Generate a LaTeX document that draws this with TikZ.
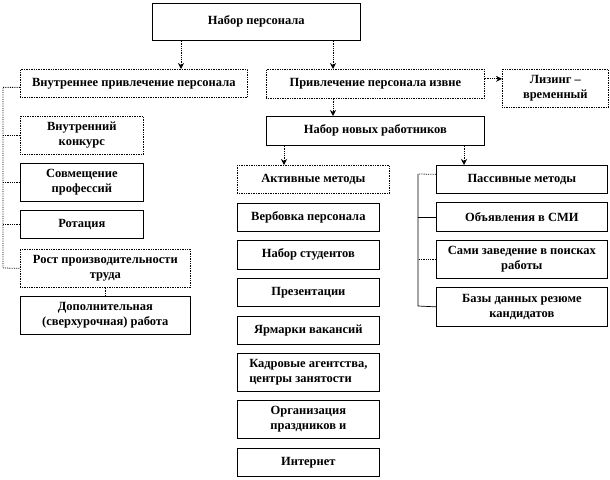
\documentclass[tikz,border=0pt]{standalone}
\usepackage{fontspec}
\setmainfont{Liberation Serif}
\usetikzlibrary{arrows.meta}
\newcommand\mybox[7]{\node[#2,anchor=north west,minimum width={(#5-#3)*1pt},minimum height={(#6-#4)*1pt}] (#1) at (#3,#4) {#7};}
\begin{document}
\begin{tikzpicture}[x=1pt,y=-1pt,
  box/.style={draw=black, line width=0.7pt, fill=white, inner sep=1pt, align=center,
    font=\bfseries\fontsize{12.5}{15}\selectfont},
  dbox/.style={box, densely dotted},
  arr/.style={densely dotted, line width=0.8pt, -{Stealth[length=6pt,width=6pt]}},
  link/.style={densely dotted, line width=0.8pt},
  rlink/.style={line width=0.7pt}]
\useasboundingbox[fill=white] (0,0) rectangle (610,479);
% boxes
\mybox{top}{box}{152}{3}{360}{40}{Набор персонала}
\mybox{inner}{dbox}{20}{69}{247}{97}{Внутреннее привлечение персонала}
\mybox{outer}{dbox}{266}{69}{484}{98}{Привлечение персонала извне}
\mybox{lease}{dbox}{502}{69}{608}{107}{Лизинг –\\временный}
\mybox{newr}{box}{266}{116}{484}{145}{Набор новых работников}
\mybox{konk}{dbox}{20}{116}{143}{154}{Внутренний\\конкурс}
\mybox{sovm}{box}{20}{163}{143}{201}{Совмещение\\профессий}
\mybox{rot}{box}{20}{210}{143}{238}{Ротация}
\mybox{rost}{dbox}{20}{249}{190}{287}{Рост производительности\\труда}
\mybox{dop}{box}{20}{296}{190}{334}{Дополнительная\\(сверхурочная) работа}
\mybox{act}{dbox}{237}{165}{389}{193}{Активные методы}
\mybox{verb}{box}{237}{203}{379}{231}{Вербовка персонала}
\mybox{stud}{box}{237}{240}{379}{269}{Набор студентов}
\mybox{pres}{box}{237}{278}{379}{306}{Презентации}
\mybox{yarm}{box}{237}{316}{379}{344}{Ярмарки вакансий}
\mybox{kadr}{box,align=left}{237}{353}{379}{391}{Кадровые агентства,\\центры занятости}
\mybox{org}{box}{237}{400}{379}{438}{Организация\\праздников и}
\mybox{inet}{box}{237}{448}{379}{476}{Интернет}
\mybox{pass}{box}{436}{165}{607}{193}{Пассивные методы}
\mybox{smi}{box}{436}{202}{607}{231}{Объявления в СМИ}
\mybox{sami}{box}{436}{240}{607}{278}{Сами заведение в поисках\\работы}
\mybox{base}{box}{436}{287}{607}{326}{Базы данных резюме\\кандидатов}
% arrows
\draw[arr] ([xshift=29pt]top.south west) -- ([xshift=29pt]top.south west |- inner.north);
\draw[arr] ([xshift=181pt]top.south west) -- ([xshift=181pt]top.south west |- outer.north);
\draw[arr] ([yshift=5pt]outer.east) -- ([yshift=5pt]outer.east -| lease.west);
\draw[arr] ([xshift=67pt]outer.south west) -- ([xshift=67pt]outer.south west |- newr.north);
\draw[arr] ([xshift=18pt]newr.south west) -- ([xshift=18pt]newr.south west |- act.north);
\draw[arr] ([xshift=198pt]newr.south west) -- ([xshift=198pt]newr.south west |- pass.north);
\draw[link] (rost.south) -- (dop.north);
% left bracket
\coordinate (lb) at (3,268);
\draw[link] ([yshift=-4pt]inner.west) -| (lb) -- (rost.west);
\draw[link] (konk.west) -- (konk.west -| lb);
\draw[link] (sovm.west) -- (sovm.west -| lb);
\draw[link] (rot.west) -- (rot.west -| lb);
% right bracket
\coordinate (rb) at (418,306);
\coordinate (rt) at (418,174);
\draw[rlink] (rt) -- (rb) -- (base.west);
\draw[link] ([yshift=5pt]pass.west) -- (rt);
\draw[rlink] (smi.west) -- (smi.west -| rb);
\draw[link] (sami.west) -- (sami.west -| rb);
\end{tikzpicture}
\end{document}
